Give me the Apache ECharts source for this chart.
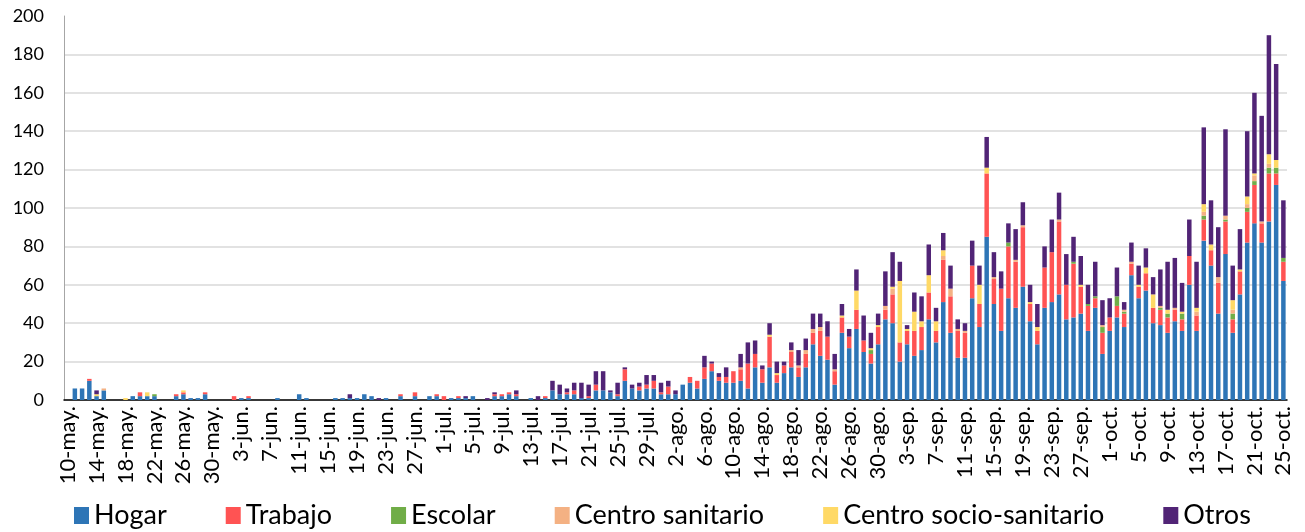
<!DOCTYPE html>
<html>
<head>
<meta charset="utf-8">
<title>Brotes por ámbito</title>
<script src="https://cdn.jsdelivr.net/npm/echarts@6/dist/echarts.min.js"></script>
<style>
  html, body { margin: 0; padding: 0; background: #fff; }
  #chart { width: 1305px; height: 532px; }
</style>
</head>
<body>
<div id="chart"></div>
<script>
// meses del eje x: [nombre, primer día, último día]
var months = [['may', 10, 31], ['jun', 1, 30], ['jul', 1, 31], ['ago', 1, 31], ['sep', 1, 30], ['oct', 1, 25]];
var days = [];
months.forEach(function (m) {
    for (var d = m[1]; d <= m[2]; d++) days.push(d + '-' + m[0] + '.');
});

var seriesNames = ['Hogar', 'Trabajo', 'Escolar', 'Centro sanitario', 'Centro socio-sanitario', 'Otros'];
var colors = ['#2e75b6', '#ff5353', '#70ad47', '#f4b183', '#ffd966', '#512476'];

// valores diarios (10-may. a 25-oct.)
var hogar = [
    0, 6, 6, 10, 2, 5, 0, 0, 0, 2,
    2, 2, 2, 0, 0, 2, 3, 1, 1, 3,
    0, 0, 0, 0, 1, 1, 0, 0, 0, 1,
    0, 0, 3, 1, 0, 0, 0, 1, 1, 1,
    1, 3, 2, 0, 1, 0, 2, 0, 2, 0,
    2, 2, 0, 1, 1, 1, 2, 0, 0, 2,
    2, 3, 2, 0, 1, 0, 1, 5, 3, 3,
    3, 1, 1, 5, 5, 4, 2, 10, 6, 5,
    6, 6, 3, 3, 3, 8, 9, 6, 11, 15,
    10, 9, 9, 10, 6, 17, 9, 17, 9, 14,
    17, 12, 17, 29, 23, 21, 8, 35, 27, 37,
    25, 19, 29, 42, 40, 20, 29, 23, 26, 42,
    30, 51, 35, 22, 22, 53, 38, 85, 50, 36,
    53, 48, 59, 41, 29, 48, 51, 55, 42, 43,
    45, 36, 48, 24, 36, 43, 38, 65, 53, 57,
    40, 39, 35, 41, 36, 60, 36, 83, 70, 45,
    76, 35, 55, 82, 92, 82, 93, 112, 62
];
var trabajo = [
    0, 0, 0, 1, 0, 0, 0, 0, 0, 0,
    2, 0, 0, 0, 0, 1, 1, 0, 0, 1,
    0, 0, 0, 2, 0, 1, 0, 0, 0, 0,
    0, 0, 0, 0, 0, 0, 0, 0, 0, 0,
    0, 0, 0, 0, 0, 0, 1, 0, 2, 0,
    0, 1, 2, 0, 1, 0, 0, 0, 0, 1,
    1, 1, 1, 0, 0, 0, 1, 0, 0, 1,
    2, 0, 1, 3, 0, 0, 1, 6, 0, 2,
    2, 4, 1, 4, 0, 0, 3, 4, 6, 4,
    2, 3, 6, 6, 13, 7, 7, 16, 4, 4,
    8, 5, 7, 6, 13, 12, 7, 8, 6, 10,
    6, 5, 9, 5, 15, 10, 7, 13, 12, 14,
    6, 22, 19, 14, 13, 17, 12, 33, 13, 22,
    27, 24, 31, 9, 7, 21, 26, 38, 18, 28,
    14, 13, 5, 11, 7, 6, 7, 6, 6, 9,
    8, 8, 8, 6, 6, 15, 8, 11, 8, 16,
    17, 7, 12, 16, 20, 10, 25, 6, 10
];
var escolar = [
    0, 0, 0, 0, 0, 0, 0, 0, 0, 0,
    0, 0, 1, 0, 0, 0, 0, 0, 0, 0,
    0, 0, 0, 0, 0, 0, 0, 0, 0, 0,
    0, 0, 0, 0, 0, 0, 0, 0, 0, 0,
    0, 0, 0, 0, 0, 0, 0, 0, 0, 0,
    0, 0, 0, 0, 0, 0, 0, 0, 0, 0,
    0, 0, 0, 0, 0, 0, 0, 0, 0, 0,
    0, 0, 0, 0, 0, 0, 0, 0, 0, 0,
    0, 0, 0, 0, 0, 0, 0, 0, 0, 0,
    0, 0, 0, 0, 0, 0, 0, 0, 0, 0,
    0, 0, 0, 0, 0, 0, 0, 0, 0, 0,
    0, 2, 0, 0, 0, 0, 0, 0, 0, 0,
    0, 0, 0, 0, 0, 0, 0, 0, 0, 0,
    2, 0, 0, 0, 0, 0, 0, 0, 0, 1,
    0, 1, 1, 3, 0, 5, 1, 0, 0, 0,
    0, 1, 2, 0, 3, 0, 0, 2, 0, 0,
    1, 3, 0, 2, 2, 0, 3, 3, 2
];
var sanitario = [
    0, 0, 0, 0, 0, 1, 0, 0, 0, 0,
    0, 0, 0, 0, 0, 0, 0, 0, 0, 0,
    0, 0, 0, 0, 0, 0, 0, 0, 0, 0,
    0, 0, 0, 0, 0, 0, 0, 0, 0, 0,
    0, 0, 0, 0, 0, 0, 0, 0, 0, 0,
    0, 0, 0, 0, 0, 0, 0, 0, 0, 0,
    0, 0, 0, 0, 0, 0, 0, 0, 0, 0,
    0, 0, 0, 0, 0, 0, 0, 0, 0, 0,
    0, 0, 0, 0, 0, 0, 0, 0, 0, 0,
    0, 0, 0, 1, 0, 0, 0, 0, 0, 0,
    1, 1, 2, 2, 2, 0, 1, 0, 0, 0,
    0, 0, 0, 2, 3, 0, 0, 0, 0, 0,
    0, 2, 4, 1, 1, 0, 0, 0, 1, 0,
    0, 1, 1, 0, 0, 0, 0, 1, 0, 0,
    0, 0, 0, 1, 0, 0, 1, 1, 0, 0,
    0, 1, 0, 1, 0, 0, 2, 2, 0, 3,
    2, 2, 0, 2, 3, 1, 2, 0, 0
];
var socio = [
    0, 0, 0, 0, 1, 0, 0, 0, 1, 0,
    0, 2, 0, 0, 0, 0, 1, 0, 0, 0,
    0, 0, 0, 0, 0, 0, 0, 0, 0, 0,
    0, 0, 0, 0, 0, 0, 0, 0, 0, 0,
    0, 0, 0, 0, 0, 0, 0, 0, 0, 0,
    0, 0, 0, 0, 0, 0, 0, 0, 0, 0,
    0, 0, 0, 0, 0, 0, 0, 0, 0, 0,
    0, 0, 0, 0, 0, 0, 0, 0, 0, 0,
    0, 0, 0, 0, 0, 0, 0, 0, 0, 0,
    0, 0, 0, 0, 0, 0, 0, 1, 1, 0,
    0, 0, 0, 0, 0, 0, 0, 1, 0, 10,
    0, 1, 1, 0, 1, 32, 1, 10, 3, 9,
    5, 3, 0, 0, 0, 0, 10, 3, 0, 0,
    0, 0, 0, 1, 2, 0, 0, 0, 0, 0,
    1, 0, 0, 0, 0, 0, 0, 0, 1, 3,
    7, 0, 2, 0, 1, 0, 2, 4, 3, 0,
    0, 5, 1, 4, 1, 0, 5, 4, 0
];
var otros = [
    0, 0, 0, 0, 2, 0, 0, 0, 0, 0,
    0, 0, 0, 0, 0, 0, 0, 0, 0, 0,
    0, 0, 0, 0, 0, 0, 0, 0, 0, 0,
    0, 0, 0, 0, 0, 0, 0, 0, 0, 2,
    0, 0, 0, 1, 0, 0, 0, 0, 0, 0,
    0, 0, 0, 0, 0, 1, 0, 0, 1, 1,
    0, 0, 2, 0, 0, 2, 0, 5, 5, 2,
    4, 8, 6, 7, 10, 1, 6, 1, 2, 2,
    5, 3, 5, 3, 2, 0, 0, 0, 6, 1,
    2, 5, 0, 7, 11, 7, 2, 6, 6, 2,
    4, 8, 6, 8, 7, 8, 8, 6, 4, 11,
    13, 8, 6, 18, 18, 10, 2, 10, 13, 16,
    7, 9, 12, 5, 4, 13, 10, 16, 13, 9,
    10, 16, 12, 9, 12, 11, 17, 14, 16, 13,
    15, 10, 18, 13, 10, 15, 4, 10, 10, 10,
    9, 19, 25, 26, 15, 19, 24, 40, 23, 26,
    45, 18, 21, 34, 42, 55, 62, 50, 30
];
var yTicks = { min: 0, max: 200, step: 20 };

var values = [hogar, trabajo, escolar, sanitario, socio, otros];
var font = 'Lato, "Liberation Sans", sans-serif';

// líneas de cuadrícula: sin línea en 200
var gridColors = [];
for (var i = 0; i < 10; i++) gridColors.push('#d9d9d9');
gridColors.push('rgba(0,0,0,0)');

var chart = echarts.init(document.getElementById('chart'), null, { renderer: 'canvas' });
chart.setOption({
    animation: false,
    backgroundColor: '#ffffff',
    color: colors,
    grid: { left: 64, right: 18, top: 16, bottom: 132, containLabel: false },
    legend: {
        data: seriesNames,
        left: 69,
        top: 497,
        icon: 'rect',
        itemWidth: 15,
        itemHeight: 17,
        itemGap: 59,
        textStyle: { fontFamily: font, fontSize: 27, color: '#000' }
    },
    xAxis: {
        type: 'category',
        data: days,
        boundaryGap: true,
        axisLine: { lineStyle: { color: '#000', width: 1.5 } },
        axisTick: { interval: 3, length: 6, lineStyle: { color: '#000', width: 1.5 } },
        axisLabel: { interval: 3, rotate: 90, margin: 6, fontFamily: font, fontSize: 22, color: '#000' },
        splitLine: { show: false }
    },
    yAxis: {
        type: 'value',
        min: yTicks.min,
        max: yTicks.max,
        interval: yTicks.step,
        axisLine: { show: true, lineStyle: { color: '#a6a6a6', width: 1 } },
        axisTick: { show: false },
        axisLabel: { margin: 20, fontFamily: font, fontSize: 18, color: '#000' },
        splitLine: { show: true, lineStyle: { color: gridColors, width: 1.5 } }
    },
    series: seriesNames.map(function (name, k) {
        return {
            name: name,
            type: 'bar',
            stack: 'total',
            barWidth: '62%',
            data: values[k]
        };
    })
});
</script>
</body>
</html>
